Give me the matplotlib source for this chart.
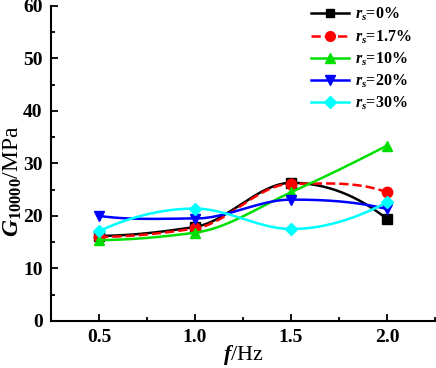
import numpy as np
import matplotlib
matplotlib.use('Agg')
import matplotlib.pyplot as plt
from matplotlib.ticker import MultipleLocator

plt.rcParams['font.family'] = 'Liberation Serif'
plt.rcParams['font.weight'] = 'bold'
plt.rcParams['mathtext.fontset'] = 'custom'
plt.rcParams['mathtext.rm'] = 'Liberation Serif:bold'
plt.rcParams['mathtext.it'] = 'Liberation Serif:bold:italic'
plt.rcParams['mathtext.bf'] = 'Liberation Serif:bold'

# data
freq = [0.5, 1.0, 1.5, 2.0]
g_0 = [16.2, 17.9, 26.3, 19.4]
g_17 = [16.0, 17.6, 26.1, 24.5]
g_10 = [15.4, 16.8, 24.5, 33.4]
g_20 = [20.0, 19.5, 23.1, 21.3]
g_30 = [17.1, 21.4, 17.5, 22.6]
labels = ['0%', '1.7%', '10%', '20%', '30%']


# monotone (pchip-like) hermite curve, only for drawing the smooth line
def smooth(x, y, n=200):
    x = np.asarray(x, float)
    y = np.asarray(y, float)
    h = np.diff(x)
    d = np.diff(y) / h
    k = len(x)
    m = np.zeros(k)
    for i in range(1, k - 1):
        if d[i - 1] * d[i] > 0:
            w1 = 2 * h[i] + h[i - 1]
            w2 = h[i] + 2 * h[i - 1]
            m[i] = (w1 + w2) / (w1 / d[i - 1] + w2 / d[i])
    m[0] = ((2 * h[0] + h[1]) * d[0] - h[0] * d[1]) / (h[0] + h[1])
    if np.sign(m[0]) != np.sign(d[0]):
        m[0] = 0
    m[-1] = ((2 * h[-1] + h[-2]) * d[-1] - h[-1] * d[-2]) / (h[-1] + h[-2])
    if np.sign(m[-1]) != np.sign(d[-1]):
        m[-1] = 0
    xs = np.linspace(x[0], x[-1], n)
    ys = np.empty_like(xs)
    for j, t in enumerate(xs):
        i = int(np.clip(np.searchsorted(x, t) - 1, 0, k - 2))
        s = (t - x[i]) / h[i]
        h00 = 2 * s ** 3 - 3 * s ** 2 + 1
        h10 = s ** 3 - 2 * s ** 2 + s
        h01 = -2 * s ** 3 + 3 * s ** 2
        h11 = s ** 3 - s ** 2
        ys[j] = h00 * y[i] + h10 * h[i] * m[i] + h01 * y[i + 1] + h11 * h[i] * m[i + 1]
    return xs, ys


fig = plt.figure(figsize=(4.36, 3.68), dpi=100)
ax = fig.add_axes([0.117, 0.128, 0.881, 0.856])

series = [g_0, g_17, g_10, g_20, g_30]
colors = ['black', 'red', '#00e000', 'blue', 'cyan']
markers = ['s', 'o', '^', 'v', 'D']
styles = ['-', '--', '-', '-', '-']
msizes = [6.5, 7.5, 7.5, 7.5, 6.5]

for vals, c, m, ls, ms, lab in zip(series, colors, markers, styles, msizes, labels):
    xs, ys = smooth(freq, vals)
    ax.plot(xs, ys, color=c, ls=ls, lw=1.8)
    ax.plot(freq, vals, color=c, marker=m, ms=ms, ls='none')
    ax.plot([], [], color=c, ls=ls, lw=1.8, marker=m, ms=ms - 0.5,
            label=r'$r_s$=' + lab)

ax.set_xlim(0.25, 2.25)
ax.set_ylim(0, 60)
ax.xaxis.set_major_locator(MultipleLocator(0.5))
ax.xaxis.set_minor_locator(MultipleLocator(0.25))
ax.yaxis.set_major_locator(MultipleLocator(10))
ax.yaxis.set_minor_locator(MultipleLocator(5))
ax.tick_params(which='both', direction='in', width=1.3, labelsize=14)
ax.tick_params(which='major', length=5)
ax.tick_params(which='minor', length=3)
ax.tick_params(axis='x', pad=6)
ax.tick_params(axis='y', pad=6)
for side in ['top', 'right']:
    ax.spines[side].set_visible(False)
for side in ['left', 'bottom']:
    ax.spines[side].set_linewidth(1.5)

ax.set_xlabel(r'$f$/Hz', fontsize=16, labelpad=-2)
ax.set_ylabel(r'$G_{10000}$/MPa', fontsize=17)
ax.yaxis.set_label_coords(-0.07, 0.445)

ax.legend(loc='upper right', frameon=False, fontsize=11.5,
          handlelength=2.4, handletextpad=0.35, labelspacing=0.3,
          borderaxespad=0.0, bbox_to_anchor=(0.955, 1.02))

fig.savefig('out.png', dpi=100)
